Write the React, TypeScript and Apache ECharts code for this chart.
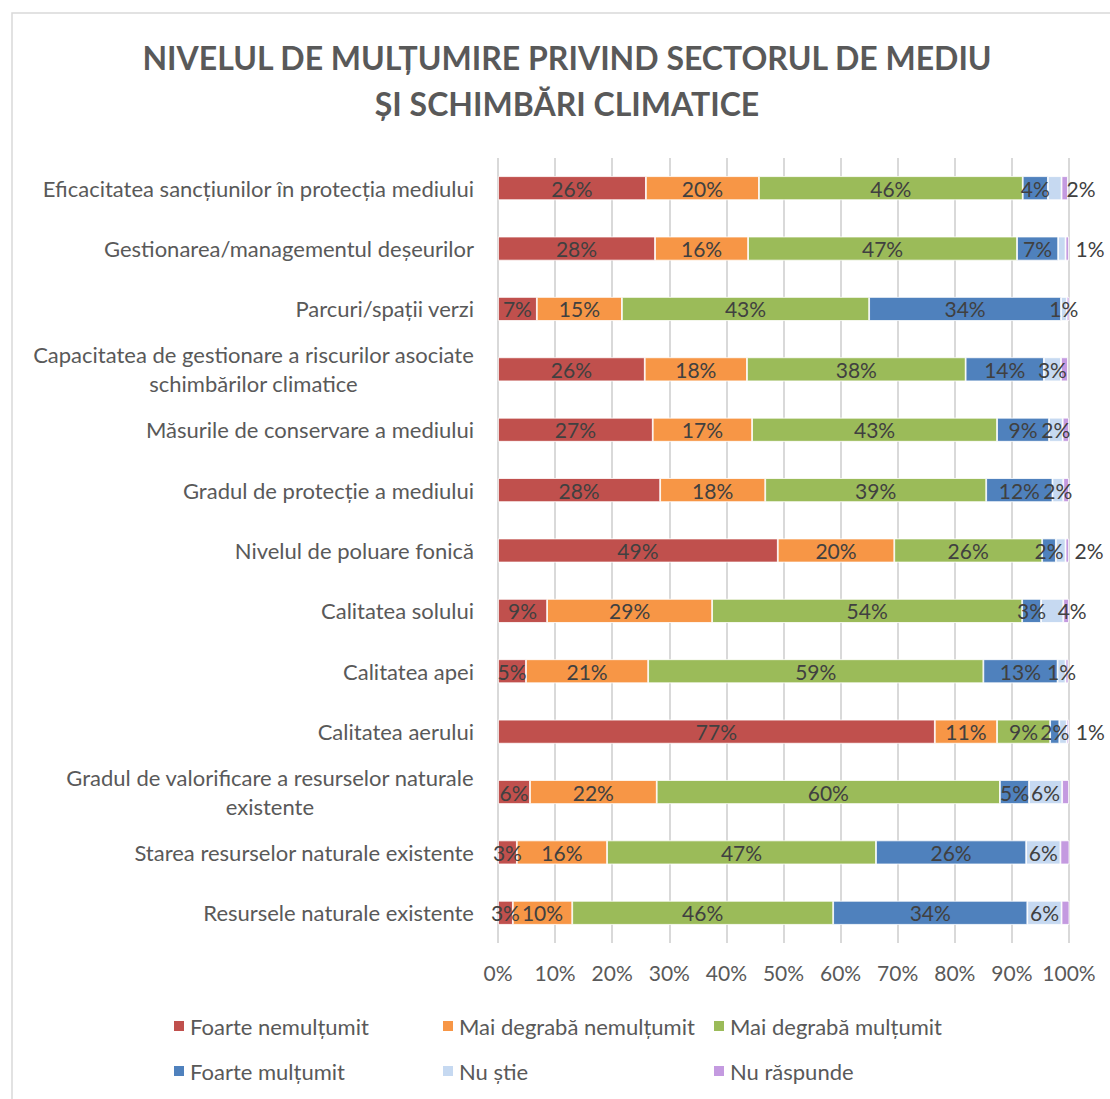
import React, { useEffect, useRef } from "react";
import * as echarts from "echarts";

const categories = [
  "Eficacitatea sancțiunilor în protecția mediului",
  "Gestionarea/managementul deșeurilor",
  "Parcuri/spații verzi",
  "Capacitatea de gestionare a riscurilor asociate\nschimbărilor climatice",
  "Măsurile de conservare a mediului",
  "Gradul de protecție a mediului",
  "Nivelul de poluare fonică",
  "Calitatea solului",
  "Calitatea apei",
  "Calitatea aerului",
  "Gradul de valorificare a resurselor naturale\nexistente",
  "Starea resurselor naturale existente",
  "Resursele naturale existente",
];

const seriesNames = [
  "Foarte nemulțumit",
  "Mai degrabă nemulțumit",
  "Mai degrabă mulțumit",
  "Foarte mulțumit",
  "Nu știe",
  "Nu răspunde",
];

const foarteNemultumit = [25.9, 27.5, 6.8, 25.7, 27.1, 28.4, 49.0, 8.6, 4.9, 76.5, 5.6, 3.3, 2.6];
const maiDegrabaNemultumit = [19.8, 16.3, 14.9, 17.9, 17.4, 18.4, 20.4, 28.9, 21.4, 10.9, 22.2, 15.8, 10.4];
const maiDegrabaMultumit = [46.2, 47.1, 43.3, 38.3, 42.9, 38.7, 25.9, 54.3, 58.7, 9.3, 60.1, 47.1, 45.7];
const foarteMultumit = [4.4, 7.2, 33.6, 13.7, 9.1, 11.6, 2.4, 3.3, 13.0, 1.6, 5.1, 26.3, 34.0];
const nuStie = [2.4, 1.3, 1.0, 3.0, 2.4, 1.9, 1.7, 3.9, 1.4, 1.3, 5.8, 6.0, 6.0];
const nuRaspunde = [1.1, 0.6, 0.5, 1.2, 1.1, 1.0, 0.6, 1.0, 0.5, 0.4, 1.2, 1.6, 1.4];

const xTicks = [0, 10, 20, 30, 40, 50, 60, 70, 80, 90, 100];

const titleLines = ["NIVELUL DE MULȚUMIRE PRIVIND SECTORUL DE MEDIU", "ȘI SCHIMBĂRI CLIMATICE"];

// style-only settings
const colors = ["#C0504D", "#F79646", "#9BBB59", "#4F81BD", "#C6D9F1", "#C49AE0"];
const FONT = "Lato, 'Open Sans', sans-serif";
// "Nu știe" labels moved out of the bar (row index -> label placement)
const lightLabelPlacement: Record<number, any> = {
  0: { position: "right", distance: 5 },
  1: { position: "right", distance: 10 },
  6: { position: "right", distance: 9 },
  7: { position: "inside", offset: [20, 0] },
  9: { position: "right", distance: 9 },
};
// legend grid: 3 columns x 2 rows
const legendCols = [172, 441, 712];
const legendRows = [1015, 1060];

export default function App() {
  const ref = useRef<HTMLDivElement>(null);

  useEffect(() => {
    if (!ref.current) return;
    const chart = echarts.init(ref.current, undefined, { renderer: "svg" });

    const allValues = [
      foarteNemultumit,
      maiDegrabaNemultumit,
      maiDegrabaMultumit,
      foarteMultumit,
      nuStie,
      nuRaspunde,
    ];

    const labelBase = {
      show: true,
      position: "inside",
      color: "#404040",
      fontSize: 21,
      fontFamily: FONT,
      formatter: (p: any) => `${Math.round(p.value)}%`,
    };

    const series = allValues.map((vals, si) => {
      const data = vals.map((v, i) => {
        if (si === 4 && lightLabelPlacement[i] !== undefined) {
          return { value: v, label: lightLabelPlacement[i] };
        }
        return { value: v };
      });
      return {
        name: seriesNames[si],
        type: "bar",
        stack: "total",
        barWidth: 24,
        data,
        itemStyle: { color: colors[si], borderColor: "#ffffff", borderWidth: 0.8 },
        label: si === 5 ? { show: false } : labelBase,
        emphasis: { disabled: true },
      };
    });

    const legends = seriesNames.map((name, i) => ({
      left: legendCols[i % 3],
      top: legendRows[Math.floor(i / 3)],
      padding: 0,
      itemWidth: 12,
      itemHeight: 12,
      icon: "rect",
      selectedMode: false,
      data: [name],
      textStyle: { color: "#595959", fontSize: 22, fontFamily: FONT },
    }));

    chart.setOption({
      animation: false,
      backgroundColor: "#ffffff",
      textStyle: { fontFamily: FONT },
      graphic: [
        {
          type: "rect",
          shape: { x: 12, y: 13, width: 1110, height: 1100 },
          style: { fill: "none", stroke: "#d9d9d9", lineWidth: 1.5 },
          silent: true,
        },
        {
          type: "text",
          x: 567,
          y: 34,
          style: {
            text: titleLines.join("\n"),
            fill: "#595959",
            font: `bold 32px ${FONT}`,
            textAlign: "center",
            lineHeight: 46,
          },
        },
      ],
      legend: legends,
      grid: { left: 498, right: 41, top: 158, bottom: 1099 - 943, containLabel: false },
      xAxis: {
        type: "value",
        min: xTicks[0],
        max: xTicks[xTicks.length - 1],
        interval: 10,
        axisLine: { show: false },
        axisTick: { show: false },
        splitLine: { show: true, lineStyle: { color: "#d9d9d9", width: 2 } },
        axisLabel: {
          color: "#595959",
          fontSize: 21,
          fontFamily: FONT,
          margin: 19,
          formatter: (v: number) => `${v}%`,
        },
      },
      yAxis: {
        type: "category",
        inverse: true,
        data: categories,
        axisLine: { show: false },
        axisTick: { show: false },
        axisLabel: {
          color: "#595959",
          fontSize: 22,
          fontFamily: FONT,
          margin: 24,
          align: "right",
          lineHeight: 29,
          formatter: (v: string) =>
            v.includes("\n") ? v.split("\n").map((l) => `{c|${l}}`).join("\n") : v,
          rich: {
            c: { align: "center", color: "#595959", fontSize: 22, fontFamily: FONT, lineHeight: 29 },
          },
        },
      },
      series,
    });

    return () => chart.dispose();
  }, []);

  return (
    <div
      ref={ref}
      style={{ position: "absolute", left: 0, top: 0, width: 1110, height: 1099 }}
    />
  );
}
